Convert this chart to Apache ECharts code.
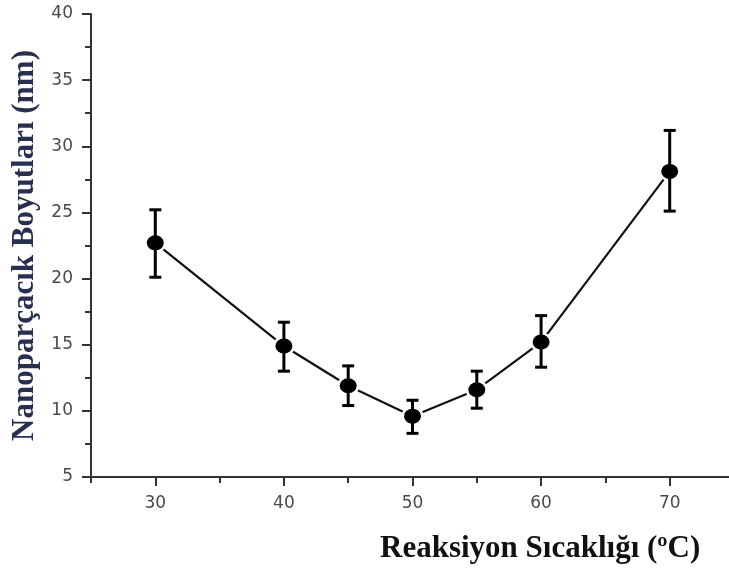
<!DOCTYPE html>
<html>
<head>
<meta charset="utf-8">
<script src="https://cdn.jsdelivr.net/npm/echarts@6/dist/echarts.min.js"></script>
<style>html,body{margin:0;padding:0;background:#fff}#c{width:729px;height:575px}</style>
</head>
<body>
<div id="c"></div>
<script>
const temps = [30, 40, 45, 50, 55, 60, 70];
const sizes = [22.7, 14.9, 11.9, 9.6, 11.6, 15.2, 28.1];
const errLow = [20.1, 13.0, 10.4, 8.3, 10.2, 13.3, 25.1];
const errHigh = [25.2, 16.7, 13.4, 10.8, 13.0, 17.2, 31.2];
const xMajorTicks = [30, 40, 50, 60, 70];
const xMinorTicks = [25, 35, 45, 55, 65];
const xTitle = 'Reaksiyon Sıcaklığı (ºC)';
const yTitle = 'Nanoparçacık Boyutları (nm)';

const chart = echarts.init(document.getElementById('c'), null, {renderer: 'canvas'});
const axisCol = '#333';
const labelStyle = {color: '#4a4a4a', fontFamily: 'DejaVu Sans', fontSize: 17};

chart.setOption({
  animation: false,
  backgroundColor: '#fff',
  title: {
    text: xTitle, left: 380, top: 533, padding: 0,
    textStyle: {fontFamily: 'Liberation Serif', fontWeight: 'bold', fontSize: 31, color: '#111'}
  },
  grid: {left: 91, right: -5, top: 14, bottom: 98, containLabel: false, outerBoundsMode: 'none'},
  xAxis: [{
    type: 'value', min: 25, max: 75, interval: 5,
    splitLine: {show: false},
    axisLine: {show: true, lineStyle: {color: axisCol, width: 2}},
    axisTick: {show: true, customValues: xMajorTicks, length: 9, lineStyle: {color: axisCol, width: 2}},
    axisLabel: {show: true, customValues: xMajorTicks, margin: 18, ...labelStyle}
  }, {
    type: 'value', min: 25, max: 75, interval: 5, position: 'bottom',
    splitLine: {show: false},
    axisLine: {show: false},
    axisTick: {show: true, customValues: xMinorTicks, length: 6, lineStyle: {color: axisCol, width: 2}},
    axisLabel: {show: false}
  }],
  yAxis: {
    type: 'value', min: 5, max: 40, interval: 5,
    name: yTitle, nameLocation: 'middle', nameGap: 49, nameRotate: 90,
    nameTextStyle: {fontFamily: 'Liberation Serif', fontWeight: 'bold', fontSize: 31, color: '#28304f'},
    splitLine: {show: false},
    axisLine: {show: true, lineStyle: {color: axisCol, width: 2}},
    axisTick: {show: true, length: 9, lineStyle: {color: axisCol, width: 2}},
    minorTick: {show: true, splitNumber: 2, length: 6, lineStyle: {color: axisCol, width: 2}},
    axisLabel: {margin: 18, ...labelStyle}
  },
  series: [{
    type: 'line',
    data: temps.map((t, i) => [t, sizes[i]]),
    symbol: 'circle', symbolSize: [17, 15],
    lineStyle: {color: '#111', width: 2.2},
    itemStyle: {color: '#fff', borderColor: '#fff', borderWidth: 5},
    z: 2
  }, {
    type: 'custom',
    data: temps.map((t, i) => [t, errLow[i], errHigh[i]]),
    z: 3,
    renderItem: function (params, api) {
      const x = api.value(0);
      const pLo = api.coord([x, api.value(1)]);
      const pHi = api.coord([x, api.value(2)]);
      const hw = 6;
      const st = {stroke: '#000', lineWidth: 3};
      return {
        type: 'group',
        children: [
          {type: 'line', shape: {x1: pLo[0], y1: pLo[1], x2: pHi[0], y2: pHi[1]}, style: st},
          {type: 'line', shape: {x1: pHi[0] - hw, y1: pHi[1], x2: pHi[0] + hw, y2: pHi[1]}, style: st},
          {type: 'line', shape: {x1: pLo[0] - hw, y1: pLo[1], x2: pLo[0] + hw, y2: pLo[1]}, style: st}
        ]
      };
    }
  }, {
    type: 'scatter',
    data: temps.map((t, i) => [t, sizes[i]]),
    symbol: 'circle', symbolSize: [17, 15],
    itemStyle: {color: '#000', opacity: 1},
    z: 4
  }]
});
</script>
</body>
</html>
